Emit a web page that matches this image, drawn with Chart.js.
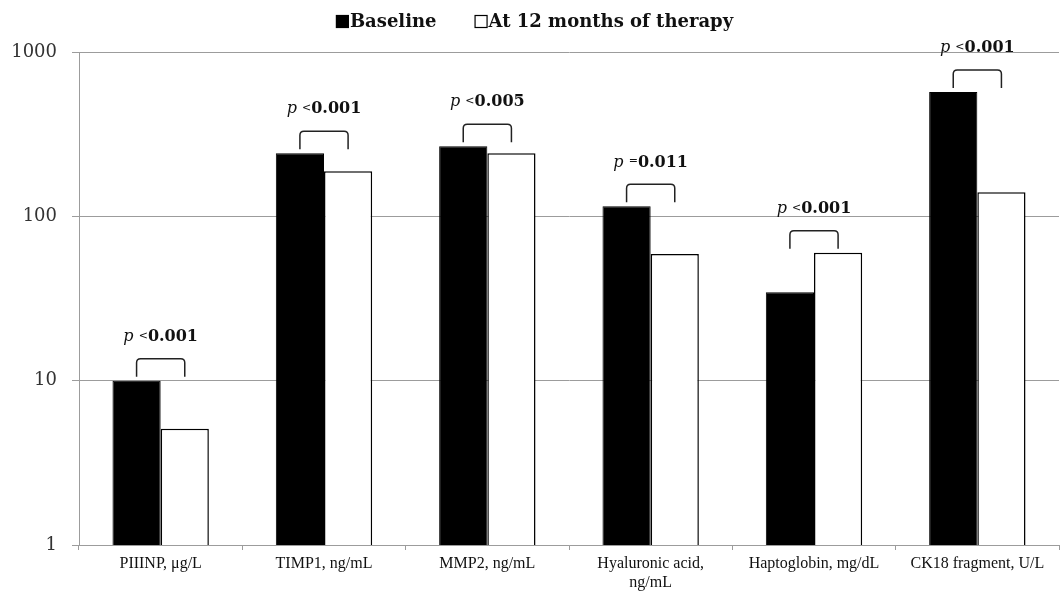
<!DOCTYPE html>
<html>
<head>
<meta charset="utf-8">
<script src="https://cdn.jsdelivr.net/npm/chart.js@4"></script>
<style>
html,body{margin:0;padding:0;background:#fff;}
#wrap{width:1061px;height:593px;position:relative;}
</style>
</head>
<body>
<div id="wrap"><canvas id="c"></canvas></div>
<script>
const categories = [
  'PIIINP, μg/L',
  'TIMP1, ng/mL',
  'MMP2, ng/mL',
  ['Hyaluronic acid,', 'ng/mL'],
  'Haptoglobin, mg/dL',
  'CK18 fragment, U/L'
];
const baseline = [10, 242, 267, 115, 34.5, 570];
const at12Months = [5.1, 188, 242, 59, 60, 140];
const pSigns = ['<', '<', '<', '=', '<', '<'];
const pValues = ['0.001', '0.001', '0.005', '0.011', '0.001', '0.001'];
const yTicks = [1, 10, 100, 1000];
const seriesNames = ['Baseline', 'At 12 months of therapy'];

const GRID = '#9c9c9c';

const customLegend = {
  id: 'customLegend',
  afterDraw(chart) {
    const ctx = chart.ctx;
    ctx.save();
    ctx.font = 'bold 18px "DejaVu Serif"';
    const box = 12, gapBox = 2, gapItem = 38;
    const items = chart.data.datasets.map(d => ({label: d.label, fill: d.backgroundColor}));
    let total = 0;
    items.forEach((it, i) => { it.w = box + gapBox + ctx.measureText(it.label).width; total += it.w + (i ? gapItem : 0); });
    let x = chart.width / 2 - total / 2 + 4;
    const y = 22;
    items.forEach(it => {
      ctx.fillStyle = it.fill === '#000000' ? '#000' : '#fff';
      ctx.fillRect(x + 0.5, y - 6.5, box, box);
      ctx.strokeStyle = '#000'; ctx.lineWidth = 1.2;
      ctx.strokeRect(x + 0.5, y - 6.5, box, box);
      ctx.fillStyle = '#111';
      ctx.textBaseline = 'middle'; ctx.textAlign = 'left';
      ctx.fillText(it.label, x + box + gapBox, y);
      x += it.w + gapItem;
    });
    ctx.restore();
  }
};

const pBrackets = {
  id: 'pBrackets',
  afterDatasetsDraw(chart) {
    const ctx = chart.ctx;
    const ys = chart.scales.y;
    const m0 = chart.getDatasetMeta(0), m1 = chart.getDatasetMeta(1);
    ctx.save();
    categories.forEach((c, i) => {
      const b0 = m0.data[i], b1 = m1.data[i];
      const topPx = ys.getPixelForValue(Math.max(baseline[i], at12Months[i]));
      const x0 = b0.x, x1 = b1.x;
      const yb = topPx - 4, yt = topPx - 22, r = 4;
      ctx.strokeStyle = '#222'; ctx.lineWidth = 1.5;
      ctx.beginPath();
      ctx.moveTo(x0, yb);
      ctx.lineTo(x0, yt + r);
      ctx.quadraticCurveTo(x0, yt, x0 + r, yt);
      ctx.lineTo(x1 - r, yt);
      ctx.quadraticCurveTo(x1, yt, x1, yt + r);
      ctx.lineTo(x1, yb);
      ctx.stroke();
      const cx = (b0.x + b1.x) / 2;
      const ty = yt - 23;
      ctx.textBaseline = 'middle';
      ctx.font = 'italic 16px "DejaVu Serif"';
      const wp = ctx.measureText('p ').width;
      ctx.font = '11px "DejaVu Serif"';
      const ws = ctx.measureText(pSigns[i]).width;
      ctx.font = 'bold 16px "DejaVu Serif"';
      const wv = ctx.measureText(pValues[i]).width;
      let x = cx - (wp + ws + wv) / 2;
      ctx.fillStyle = '#111';
      ctx.textAlign = 'left';
      ctx.font = 'italic 16px "DejaVu Serif"';
      ctx.fillText('p ', x, ty + 1); x += wp;
      ctx.font = '11px "DejaVu Serif"';
      ctx.fillText(pSigns[i], x, ty); x += ws;
      ctx.font = 'bold 16px "DejaVu Serif"';
      ctx.fillText(pValues[i], x, ty + 1);
    });
    ctx.restore();
  }
};

new Chart(document.getElementById('c'), {
  type: 'bar',
  data: {
    labels: categories,
    datasets: [
      {label: seriesNames[0], data: baseline, backgroundColor: '#000000', borderColor: '#000', borderWidth: 1, barPercentage: 1, categoryPercentage: 0.59},
      {label: seriesNames[1], data: at12Months, backgroundColor: '#ffffff', borderColor: '#000', borderWidth: 1.5, barPercentage: 1, categoryPercentage: 0.59}
    ]
  },
  options: {
    responsive: true,
    maintainAspectRatio: false,
    animation: false,
    layout: {padding: {top: 52, right: 2, left: 0, bottom: 0}},
    plugins: {legend: {display: false}, tooltip: {enabled: false}},
    scales: {
      x: {
        grid: {display: true, drawOnChartArea: false, offset: true, tickLength: 5, color: GRID},
        border: {color: GRID},
        ticks: {font: {family: '"Liberation Serif"', size: 16}, color: '#111', padding: 4, maxRotation: 0, autoSkip: false},
        afterFit(s) { s.height = 48; }
      },
      y: {
        type: 'logarithmic',
        min: 1, max: 1000,
        afterBuildTicks(s) { s.ticks = yTicks.map(v => ({value: v})); },
        grid: {color: GRID, tickLength: 7, lineWidth: 1},
        border: {color: GRID},
        ticks: {font: {family: '"DejaVu Serif"', size: 18}, color: '#333', padding: 15, callback: v => String(v)},
        afterFit(s) { s.width = 79; }
      }
    }
  },
  plugins: [customLegend, pBrackets]
});
</script>
</body>
</html>
